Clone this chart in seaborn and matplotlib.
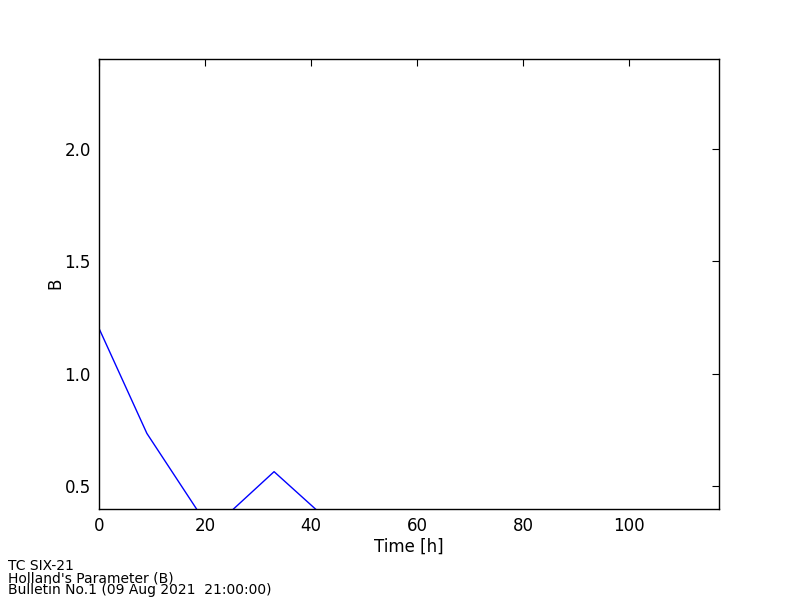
import matplotlib
matplotlib.use("Agg")
import matplotlib.pyplot as plt
import seaborn as sns
import pandas as pd

# forecast time [h] and Holland B values
horas = [0, 9, 21, 33, 45, 57, 69, 81, 93, 105, 117]
valores_b = [1.2, 0.735, 0.305, 0.565, 0.31, 0.3, 0.3, 0.3, 0.3, 0.3, 0.3]

rodape = ["TC SIX-21", "Holland's Parameter (B)", "Bulletin No.1 (09 Aug 2021  21:00:00)"]

df = pd.DataFrame({"Time [h]": horas, "B": valores_b})

sns.set_style("white")
plt.rcParams['font.family'] = ['DejaVu Sans']
plt.rcParams['text.color'] = 'black'
plt.rcParams['axes.labelcolor'] = 'black'

fig = plt.figure(figsize=(8, 6), dpi=100)
ax = fig.add_axes([0.124, 0.152, 0.775, 0.75])

sns.lineplot(data=df, x="Time [h]", y="B", color="#0000ff", linewidth=1, ax=ax)

ax.set_xlim(0, 117)
ax.set_ylim(0.4, 2.4)
ax.set_xticks([0, 20, 40, 60, 80, 100])
ax.set_yticks([0.5, 1.0, 1.5, 2.0])
ax.tick_params(direction="in", length=5, width=0.8, top=True, right=True,
               labelsize=12, colors="black", pad=6)
for lado in ax.spines.values():
    lado.set_color("black")
    lado.set_linewidth(1)
ax.set_xlabel("Time [h]", fontsize=12, labelpad=2, color="black")
ax.set_ylabel("B", fontsize=12, labelpad=0, color="black")

# rodape, uma linha de cada vez
for i, linha in enumerate(rodape):
    fig.text(0.01, 0.0565 - i * 0.02, linha, fontsize=10, ha="left",
             va="center", color="black")

fig.savefig("out.png", dpi=100)
plt.close()
